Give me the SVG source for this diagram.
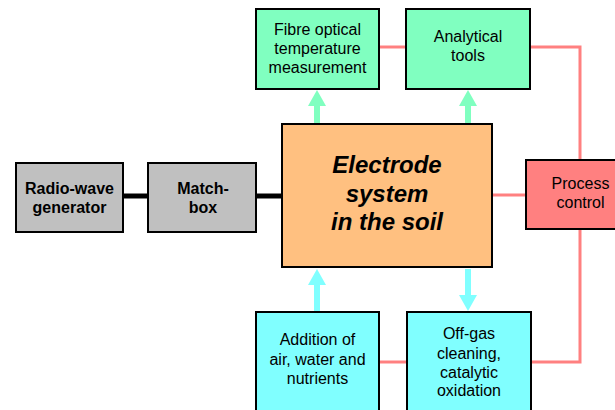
<svg xmlns="http://www.w3.org/2000/svg" width="615" height="410" viewBox="0 0 615 410">
<style>
.box{stroke:#000;stroke-width:2}
.t{font-family:"Liberation Sans",Arial,sans-serif;font-size:16px;fill:#000;text-anchor:middle}
.b{font-weight:bold}
.big{font-family:"Liberation Sans",Arial,sans-serif;font-size:24px;font-weight:bold;font-style:italic;fill:#000;text-anchor:middle}
.red{stroke:#ff8080;stroke-width:3;fill:none}
.blk{stroke:#000;stroke-width:5;fill:none}
.ga{stroke:#80ffc0;stroke-width:6;fill:none}
.ca{stroke:#80ffff;stroke-width:6;fill:none}
</style>
<defs>
<marker id="hg" markerUnits="userSpaceOnUse" markerWidth="16" markerHeight="18" viewBox="0 0 16 18" refX="8" refY="9" orient="auto">
<path d="M0,0 L16,9 L0,18 Z" fill="#80ffc0"/>
</marker>
<marker id="hc" markerUnits="userSpaceOnUse" markerWidth="16" markerHeight="18" viewBox="0 0 16 18" refX="8" refY="9" orient="auto">
<path d="M0,0 L16,9 L0,18 Z" fill="#80ffff"/>
</marker>
</defs>
<rect width="615" height="410" fill="#fff"/>
<g id="connectors">
<path class="red" d="M379,47 H406"/>
<path class="red" d="M530,47 H580 V160"/>
<path class="red" d="M580,229 V362 H531"/>
<path class="red" d="M406,362 H379"/>
<path class="red" d="M492,195 H526"/>
<path class="blk" d="M123,196 H148"/>
<path class="blk" d="M256,196 H282"/>
<path class="ga" d="M317,123 V98" marker-end="url(#hg)"/>
<path class="ga" d="M468,123 V98" marker-end="url(#hg)"/>
<path class="ca" d="M317,311 V277" marker-end="url(#hc)"/>
<path class="ca" d="M468,269 V303" marker-end="url(#hc)"/>
</g>
<g id="fibre">
<rect class="box" x="256" y="9" width="123" height="80" fill="#80ffc0"/>
<text class="t" x="317.5" y="35">Fibre optical</text>
<text class="t" x="317.5" y="54">temperature</text>
<text class="t" x="317.5" y="73">measurement</text>
</g>
<g id="analytical">
<rect class="box" x="406" y="9" width="124" height="80" fill="#80ffc0"/>
<text class="t" x="468" y="42">Analytical</text>
<text class="t" x="468" y="61">tools</text>
</g>
<g id="radio">
<rect class="box" x="16" y="163" width="107" height="69" fill="#c0c0c0"/>
<text class="t b" x="69.5" y="194">Radio-wave</text>
<text class="t b" x="69.5" y="213">generator</text>
</g>
<g id="matchbox">
<rect class="box" x="148" y="163" width="108" height="69" fill="#c0c0c0"/>
<text class="t b" x="203" y="194">Match-</text>
<text class="t b" x="203" y="213">box</text>
</g>
<g id="electrode">
<rect class="box" x="282" y="124" width="210" height="143" fill="#ffc080"/>
<text class="big" x="387" y="173">Electrode</text>
<text class="big" x="387" y="202">system</text>
<text class="big" x="387" y="230">in the soil</text>
</g>
<g id="process">
<rect class="box" x="526" y="160" width="100" height="69" fill="#ff8080"/>
<text class="t" x="580.5" y="189">Process</text>
<text class="t" x="580.5" y="208">control</text>
</g>
<g id="addition">
<rect class="box" x="256" y="312" width="123" height="110" fill="#80ffff"/>
<text class="t" x="317.5" y="345">Addition of</text>
<text class="t" x="317.5" y="365">air, water and</text>
<text class="t" x="317.5" y="384">nutrients</text>
</g>
<g id="offgas">
<rect class="box" x="407" y="312" width="124" height="110" fill="#80ffff"/>
<text class="t" x="469" y="339">Off-gas</text>
<text class="t" x="469" y="359">cleaning,</text>
<text class="t" x="469" y="378">catalytic</text>
<text class="t" x="469" y="396">oxidation</text>
</g>
</svg>
